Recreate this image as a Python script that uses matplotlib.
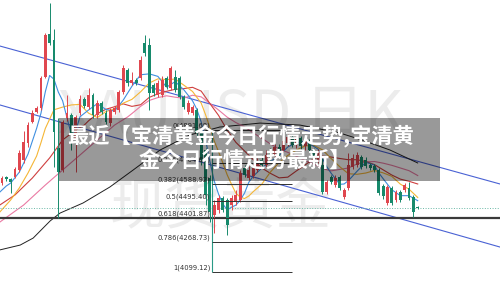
import numpy as np
import matplotlib.pyplot as plt
from matplotlib.patches import Rectangle

plt.rcParams['font.family'] = ['Noto Sans CJK SC', 'DejaVu Sans']

# daily candles (price)
opens = [4594, 4628, 4617, 4628, 4667, 4722, 4817, 4934, 4990, 5012,
         5184, 5424, 5390, 4789, 4667, 4956, 4973, 4834, 4984, 5062,
         5017, 5084, 4973, 5040, 4984, 4928, 4990, 5001, 5101, 5223,
         5151, 5168, 5179, 5374, 5363, 5140, 5084, 5084, 5179, 5123,
         5184, 5179, 5073, 4990, 4984, 5001, 4873, 4778, 4622, 4416,
         4444, 4511, 4500, 4472, 4489, 4500, 4678, 4622, 4633, 4667,
         4722, 4695, 4767, 4750, 4795, 4778, 4817, 4850, 4806, 4845,
         4800, 4828, 4778, 4722, 4695, 4544, 4628, 4583, 4628, 4516,
         4567, 4684, 4695, 4739, 4722, 4695, 4689, 4667, 4578, 4483,
         4567, 4500, 4544, 4556, 4567, 4516, 4461]
closes = [4622, 4617, 4600, 4672, 4761, 4823, 4917, 4984, 5012, 5179,
          5418, 5374, 4878, 4656, 4934, 4984, 4873, 4962, 5062, 5023,
          5084, 4973, 5040, 4990, 4934, 5001, 5012, 5101, 5234, 5151,
          5168, 5151, 5279, 5318, 5095, 5095, 5151, 5168, 5129, 5234,
          5112, 5073, 5017, 5040, 5017, 4873, 4722, 4528, 4433, 4472,
          4511, 4444, 4361, 4511, 4528, 4650, 4639, 4667, 4678, 4711,
          4695, 4750, 4734, 4795, 4767, 4828, 4850, 4806, 4845, 4800,
          4834, 4778, 4734, 4767, 4544, 4600, 4600, 4622, 4567, 4556,
          4695, 4734, 4750, 4684, 4689, 4678, 4667, 4539, 4522, 4572,
          4483, 4544, 4500, 4583, 4511, 4433, 4455]
highs = [4633, 4633, 4622, 4684, 4778, 4884, 4934, 5001, 5023, 5190,
         5429, 5596, 5452, 4956, 4945, 5084, 4984, 4973, 5084, 5073,
         5123, 5095, 5056, 5051, 5001, 5012, 5023, 5112, 5251, 5234,
         5212, 5179, 5301, 5418, 5402, 5151, 5168, 5190, 5190, 5246,
         5223, 5190, 5084, 5056, 5029, 5012, 4889, 4789, 4639, 4500,
         4528, 4522, 4511, 4528, 4556, 4667, 4695, 4689, 4700, 4734,
         4750, 4778, 4789, 4811, 4811, 4845, 4867, 4862, 4862, 4856,
         4850, 4839, 4789, 4784, 4734, 4611, 4639, 4639, 4639, 4567,
         4761, 4756, 4767, 4750, 4739, 4706, 4700, 4678, 4589, 4583,
         4578, 4556, 4556, 4594, 4600, 4528, 4466]
lows = [4583, 4606, 4539, 4622, 4656, 4706, 4795, 4928, 4984, 5001,
        5179, 5363, 4684, 4400, 4656, 4940, 4778, 4656, 4973, 5012,
        5006, 4956, 4956, 4979, 4923, 4912, 4979, 4990, 5090, 5134,
        5140, 5140, 5168, 5301, 5001, 5079, 5073, 5073, 5118, 5112,
        5101, 5062, 5006, 4979, 4973, 4856, 4695, 4472, 4377, 4316,
        4427, 4433, 4305, 4444, 4472, 4489, 4628, 4611, 4622, 4656,
        4678, 4684, 4722, 4739, 4750, 4767, 4800, 4795, 4789, 4784,
        4778, 4767, 4717, 4706, 4533, 4533, 4589, 4572, 4556, 4505,
        4556, 4672, 4684, 4672, 4678, 4667, 4656, 4528, 4505, 4472,
        4472, 4489, 4489, 4544, 4500, 4405, 4450]

# moving averages (bar index, price)
ma5_x = [-0.5, 1, 2, 4, 6, 8, 9, 10, 11, 12, 13, 14, 16, 17, 18, 20, 22, 24, 26, 28,
         30, 32, 34, 36, 38, 40, 42, 44, 45, 46, 47, 48, 49, 50, 51, 52, 53, 54, 55,
         56, 57, 58, 60, 62, 64, 66, 68, 70, 72, 73, 74, 75, 76, 78, 79, 80, 82, 84,
         86, 87, 88, 90, 92, 94, 96]
ma5_y = [4544, 4578, 4594, 4655, 4755, 4899, 4983, 5102, 5193, 5172, 5101, 5052, 4865,
         4882, 4963, 5001, 5036, 5004, 4995, 5056, 5133, 5197, 5202, 5188, 5128, 5159,
         5113, 5052, 5004, 4934, 4836, 4715, 4606, 4533, 4478, 4444, 4460, 4471, 4499,
         4538, 4599, 4632, 4678, 4714, 4748, 4795, 4819, 4827, 4798, 4783, 4731, 4685,
         4649, 4587, 4589, 4608, 4660, 4710, 4694, 4651, 4619, 4557, 4524, 4524, 4496]
ma10_x = [-0.5, 2, 4, 6, 8, 9, 10, 12, 14, 16, 18, 20, 22, 24, 26, 28, 30, 32, 34, 36,
          38, 40, 42, 44, 46, 47, 48, 49, 50, 51, 52, 53, 54, 55, 56, 57, 58, 60, 62,
          64, 66, 68, 70, 72, 74, 76, 78, 80, 82, 84, 86, 88, 90, 92, 94, 96]
ma10_y = [4433, 4500, 4567, 4650, 4745, 4819, 4898, 5002, 5017, 5029, 5032, 4983, 4959,
          4992, 5008, 5039, 5060, 5102, 5151, 5174, 5170, 5173, 5139, 5104, 5039, 4975,
          4905, 4829, 4769, 4706, 4640, 4587, 4538, 4516, 4508, 4522, 4546, 4588, 4656,
          4709, 4748, 4778, 4801, 4804, 4779, 4731, 4685, 4646, 4643, 4650, 4664, 4651,
          4632, 4588, 4560, 4514]
ma20_x = [-0.5, 3, 7, 11, 14, 17, 19, 20, 22, 24, 26, 28, 30, 32, 34, 36, 38, 40, 42,
          44, 46, 48, 50, 52, 54, 56, 58, 60, 62, 64, 66, 68, 70, 72, 74, 76, 78, 80,
          82, 84, 86, 88, 90, 92, 94, 96]
ma20_y = [4472, 4528, 4622, 4734, 4834, 4889, 4917, 4941, 4980, 5005, 5019, 5035, 5021,
          5030, 5071, 5091, 5105, 5116, 5120, 5127, 5106, 5037, 4971, 4889, 4821, 4773,
          4725, 4678, 4648, 4623, 4627, 4662, 4695, 4730, 4744, 4739, 4731, 4724, 4724,
          4714, 4697, 4668, 4639, 4616, 4604, 4589]
ma30_x = [-0.5, 5, 10, 14, 18, 22, 26, 29, 30, 32, 34, 36, 38, 40, 42, 44, 46, 48, 50,
          52, 54, 56, 58, 60, 62, 64, 66, 68, 70, 72, 74, 76, 78, 80, 82, 84, 86, 88,
          90, 92, 94, 96]
ma30_y = [4377, 4472, 4583, 4667, 4750, 4834, 4917, 4962, 4981, 5021, 5054, 5070, 5080,
          5072, 5067, 5083, 5074, 5038, 5001, 4961, 4931, 4907, 4874, 4843, 4812, 4784,
          4765, 4743, 4719, 4700, 4675, 4662, 4670, 4678, 4701, 4712, 4714, 4705, 4693,
          4678, 4663, 4636]
ma_long_x = [-0.5, 4.2, 7.2, 11.1, 13.4, 18.7, 24.9, 30.3, 36.5, 43.4, 50.3, 59.6,
             68.8, 78, 83.1, 89.6, 96]
ma_long_y = [4222, 4249, 4288, 4383, 4427, 4483, 4572, 4667, 4778, 4862, 4906, 4928,
             4917, 4873, 4834, 4778, 4706]

# channel trend lines
chan_x = [-0.5, 115]
chan_upper = [5357, 4589]
chan_lower = [5029, 4238]

# fibonacci retracement
fib_ratios = ['0', '0.236', '0.382', '0.5', '0.618', '0.786', '1']
fib_prices = [4891.68, 4704.64, 4588.92, 4495.40, 4401.87, 4268.73, 4099.12]
fib_start, fib_end = 48.5, 67

title_lines = ['最近【宝清黄金今日行情走势,宝清黄', '金今日行情走势最新】']

RED = '#e0474f'
GREEN = '#178a6c'

fig = plt.figure(figsize=(5, 2.99), dpi=100)
ax = fig.add_axes([0, 0, 1, 1])
ax.set_xlim(-0.462, 115.0)
ax.set_ylim(3948.8, 5613.1)
ax.axis('off')

# watermark
ax.text(0.116, 0.61, 'XAUUSD 日K', transform=ax.transAxes, fontsize=43,
        color='#ececec', va='center', ha='left', zorder=0, fontweight='light')
ax.text(0.22, 0.305, '现货黄金', transform=ax.transAxes, fontsize=40,
        color='#ececec', va='center', ha='left', zorder=0, fontweight='light')

ax.plot(chan_x, chan_upper, color='#4a62d4', lw=0.8, zorder=2)
ax.plot(chan_x, chan_lower, color='#4a62d4', lw=0.8, zorder=2)

ax.plot(ma_long_x, ma_long_y, color='#222222', lw=0.7, zorder=2)
ax.plot(ma30_x, ma30_y, color='#ea7aa3', lw=0.8, zorder=2)
ax.plot(ma20_x, ma20_y, color='#cf3f3f', lw=0.8, zorder=2)
ax.plot(ma10_x, ma10_y, color='#f5b636', lw=0.8, zorder=2)
ax.plot(ma5_x, ma5_y, color='#3f8fe0', lw=0.8, zorder=2)

# horizontal support + last price
ax.axhline(fib_prices[4], color='#3a3a3a', lw=1.6, zorder=3)
ax.axhline(closes[-1], color='#6bb8a6', lw=0.7, ls=':', zorder=3)

# candles
idx = np.arange(len(opens))
o = np.array(opens)
c = np.array(closes)
cols = [RED if cc >= oo else GREEN for oo, cc in zip(o, c)]
ax.vlines(idx, lows, highs, colors=cols, lw=0.7, zorder=4)
ax.bar(idx, np.maximum(np.abs(c - o), 6), bottom=np.minimum(o, c), width=0.66,
       color=cols, zorder=4, linewidth=0)

# fibonacci levels
ax.vlines(fib_start, fib_prices[-1], fib_prices[0], colors='#2a9a86', lw=0.8, zorder=5)
for r, p in zip(fib_ratios, fib_prices):
    ax.hlines(p, fib_start, fib_end, colors='#333333', lw=0.7, zorder=5)
    ax.text(fib_start - 0.4, p + 22, '%s(%.2f)' % (r, p), fontsize=4.9,
            color='#333333', ha='right', va='center', zorder=5, family='DejaVu Sans')

# title banner
ax.add_patch(Rectangle((0.118, 0.395), 0.762, 0.21, transform=ax.transAxes,
                       facecolor='black', alpha=0.4, lw=0, zorder=10))
ax.text(0.481, 0.548, title_lines[0], transform=ax.transAxes, fontsize=15.3,
        color='white', fontweight='black', ha='center', va='center', zorder=11)
ax.text(0.49, 0.465, title_lines[1], transform=ax.transAxes, fontsize=15.3,
        color='white', fontweight='black', ha='center', va='center', zorder=11)

fig.savefig('out.png', dpi=100)
